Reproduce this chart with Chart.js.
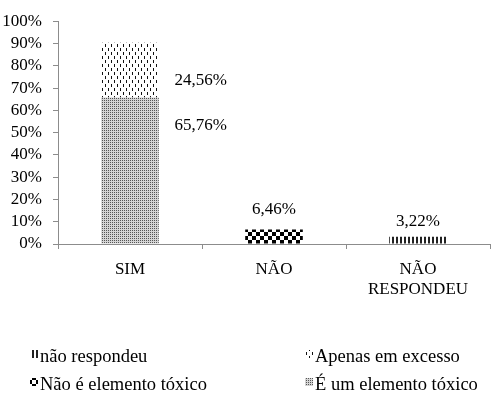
<!DOCTYPE html>
<html>
<head>
<meta charset="utf-8">
<script src="https://cdn.jsdelivr.net/npm/chart.js@4"></script>
<style>
  html, body { margin: 0; padding: 0; background: #fff; }
  #wrap { width: 496px; height: 416px; }
</style>
</head>
<body>
<div id="wrap"><canvas id="chart" width="496" height="416"></canvas></div>
<script>
const categories = ['SIM', 'NÃO', ['NÃO', 'RESPONDEU']];
const eUmElemento = [65.76, 0, 0];
const apenasExcesso = [24.56, 0, 0];
const naoEElemento = [0, 6.46, 0];
const naoRespondeu = [0, 0, 3.22];
const yTicks = [0, 10, 20, 30, 40, 50, 60, 70, 80, 90, 100];
const legendOrder = [3, 1, 2, 0]; // dataset indexes, row by row

const serif = '"Liberation Serif", "Times New Roman", serif';

// small tiles used as fills
function makePattern(w, h, draw) {
  const c = document.createElement('canvas');
  c.width = w; c.height = h;
  const g = c.getContext('2d');
  g.fillStyle = '#fff';
  g.fillRect(0, 0, w, h);
  draw(g);
  return g.createPattern(c, 'repeat');
}
const ctx = document.getElementById('chart').getContext('2d');

const patEUm = makePattern(2, 2, g => {
  g.fillStyle = '#d4d4d4'; g.fillRect(0, 0, 2, 2);
  g.fillStyle = '#555'; g.fillRect(0, 0, 1, 1);
});
const patApenas = makePattern(6, 8, g => {
  g.fillStyle = '#111';
  g.fillRect(0, 0, 1, 3);
  g.fillRect(3, 4, 1, 3);
});
const patNaoE = makePattern(8, 8, g => {
  g.fillStyle = '#000';
  g.fillRect(0, 0, 4, 4);
  g.fillRect(4, 4, 4, 4);
});
const patNaoResp = makePattern(4, 4, g => {
  g.fillStyle = '#222';
  g.fillRect(0, 0, 2, 4);
});

const labelPlugin = {
  id: 'valueLabels',
  afterDatasetsDraw(chart) {
    const c = chart.ctx;
    c.save();
    c.font = '17px ' + serif;
    c.fillStyle = '#000';
    c.textBaseline = 'middle';
    chart.data.datasets.forEach((ds, di) => {
      const meta = chart.getDatasetMeta(di);
      ds.data.forEach((v, i) => {
        if (!v) return;
        const el = meta.data[i];
        const txt = v.toFixed(2).replace('.', ',') + '%';
        if (ds.labelSide === 'right') {
          c.textAlign = 'right';
          const y = di === 0 ? el.y + 28 : el.base - 17;
          c.fillText(txt, el.x + el.width / 2 + 68, y);
        } else {
          c.textAlign = 'center';
          c.fillText(txt, el.x, el.y - ds.labelGap);
        }
      });
    });
    c.restore();
  }
};

const legendPlugin = {
  id: 'gridLegend',
  afterDraw(chart) {
    const c = chart.ctx;
    const colX = [30, 305];
    const rowY = [357, 385];
    c.save();
    c.font = '18.5px ' + serif;
    c.textBaseline = 'middle';
    c.textAlign = 'left';
    legendOrder.forEach((di, k) => {
      const ds = chart.data.datasets[di];
      const x = colX[k % 2], y = rowY[Math.floor(k / 2)];
      c.fillStyle = ds.backgroundColor;
      c.fillRect(x, y - 7, 8, 8);
      c.fillStyle = '#000';
      c.fillText(ds.label, x + 10, y);
    });
    c.restore();
  }
};

new Chart(ctx, {
  type: 'bar',
  data: {
    labels: categories,
    datasets: [
      { label: 'É um elemento tóxico', data: eUmElemento, backgroundColor: patEUm, labelSide: 'right' },
      { label: 'Apenas em excesso', data: apenasExcesso, backgroundColor: patApenas, labelSide: 'right' },
      { label: 'Não é elemento tóxico', data: naoEElemento, backgroundColor: patNaoE, labelGap: 20 },
      { label: 'não respondeu', data: naoRespondeu, backgroundColor: patNaoResp, labelGap: 15 }
    ]
  },
  options: {
    responsive: false,
    animation: false,
    events: [],
    layout: { padding: { top: 16, right: 6, left: 0, bottom: 0 } },
    datasets: { bar: { barPercentage: 0.4, categoryPercentage: 1 } },
    plugins: {
      legend: { display: false },
      tooltip: { enabled: false }
    },
    scales: {
      x: {
        stacked: true,
        grid: { display: true, drawOnChartArea: false, offset: true, tickLength: 5, color: '#8c8c8c' },
        border: { color: '#8c8c8c' },
        ticks: { color: '#000', font: { family: serif, size: 17 }, padding: 10, maxRotation: 0 },
        afterFit(scale) { scale.height = 172; }
      },
      y: {
        stacked: true,
        min: 0,
        max: 100,
        afterBuildTicks(scale) { scale.ticks = yTicks.map(v => ({ value: v })); },
        grid: { display: true, drawOnChartArea: false, tickLength: 5, color: '#8c8c8c' },
        border: { color: '#8c8c8c' },
        ticks: { color: '#000', font: { family: serif, size: 17 }, padding: 11, autoSkip: false, callback: v => v + '%' },
        afterFit(scale) { scale.width = 58; }
      }
    }
  },
  plugins: [labelPlugin, legendPlugin]
});
</script>
</body>
</html>
